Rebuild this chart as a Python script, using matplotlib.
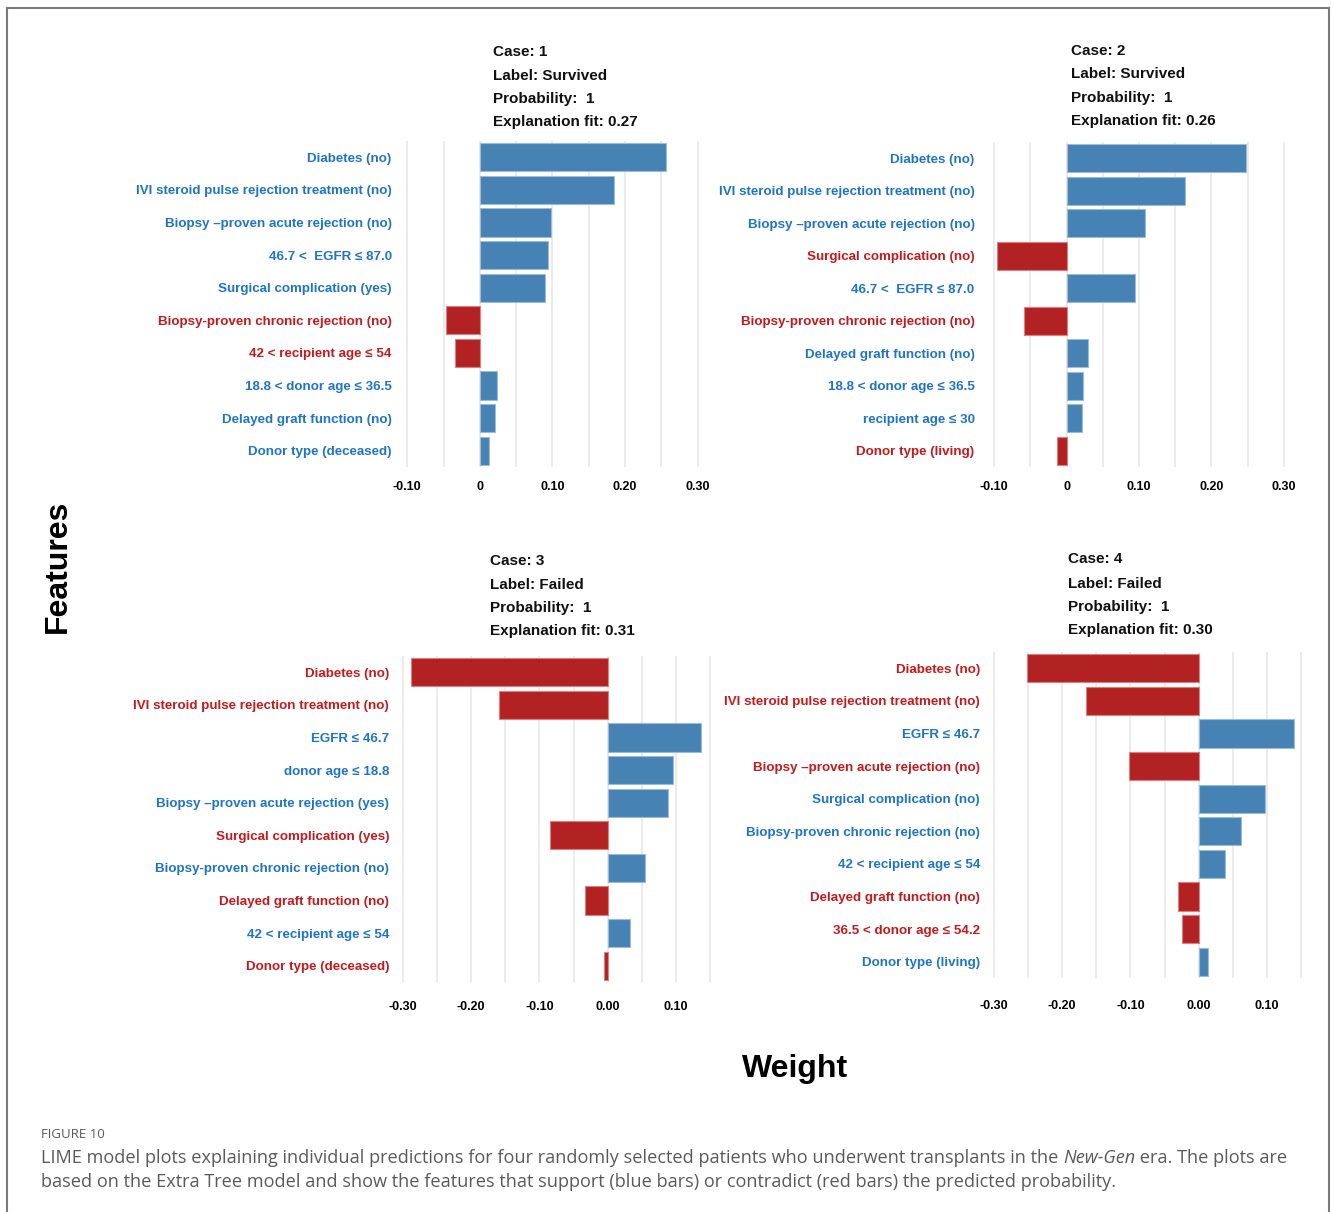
import matplotlib.pyplot as plt

W, H = 1331, 1212

# LIME explanations, one list pair per case (top bar first)
case1_features = ["Diabetes (no)", "IVI steroid pulse rejection treatment (no)",
                  "Biopsy \u2013proven acute rejection (no)", "46.7 <  EGFR \u2264 87.0",
                  "Surgical complication (yes)", "Biopsy-proven chronic rejection (no)",
                  "42 < recipient age \u2264 54", "18.8 < donor age \u2264 36.5",
                  "Delayed graft function (no)", "Donor type (deceased)"]
case1_weights = [0.256, 0.185, 0.098, 0.094, 0.090, -0.047, -0.034, 0.024, 0.021, 0.013]

case2_features = ["Diabetes (no)", "IVI steroid pulse rejection treatment (no)",
                  "Biopsy \u2013proven acute rejection (no)", "Surgical complication (no)",
                  "46.7 <  EGFR \u2264 87.0", "Biopsy-proven chronic rejection (no)",
                  "Delayed graft function (no)", "18.8 < donor age \u2264 36.5",
                  "recipient age \u2264 30", "Donor type (living)"]
case2_weights = [0.248, 0.164, 0.108, -0.096, 0.094, -0.059, 0.030, 0.023, 0.021, -0.013]

case3_features = ["Diabetes (no)", "IVI steroid pulse rejection treatment (no)",
                  "EGFR \u2264 46.7", "donor age \u2264 18.8",
                  "Biopsy \u2013proven acute rejection (yes)", "Surgical complication (yes)",
                  "Biopsy-proven chronic rejection (no)", "Delayed graft function (no)",
                  "42 < recipient age \u2264 54", "Donor type (deceased)"]
case3_weights = [-0.288, -0.159, 0.136, 0.096, 0.088, -0.084, 0.054, -0.034, 0.033, -0.006]

case4_features = ["Diabetes (no)", "IVI steroid pulse rejection treatment (no)",
                  "EGFR \u2264 46.7", "Biopsy \u2013proven acute rejection (no)",
                  "Surgical complication (no)", "Biopsy-proven chronic rejection (no)",
                  "42 < recipient age \u2264 54", "Delayed graft function (no)",
                  "36.5 < donor age \u2264 54.2", "Donor type (living)"]
case4_weights = [-0.252, -0.165, 0.139, -0.102, 0.097, 0.062, 0.038, -0.030, -0.024, 0.014]

case_ids = [1, 2, 3, 4]
case_labels = ["Survived", "Survived", "Failed", "Failed"]
case_probs = [1, 1, 1, 1]
case_fits = [0.27, 0.26, 0.31, 0.30]

ticks_top = [-0.10, 0, 0.10, 0.20, 0.30]
ticklabels_top = ["-0.10", "0", "0.10", "0.20", "0.30"]
ticks_bottom = [-0.30, -0.20, -0.10, 0.00, 0.10]
ticklabels_bottom = ["-0.30", "-0.20", "-0.10", "0.00", "0.10"]

BLUE_BAR = "#4682b4"
RED_BAR = "#b22222"
BLUE_TXT = "#1f74c9"
RED_TXT = "#c41a1c"
SANS = ["Liberation Sans", "DejaVu Sans"]

fig = plt.figure(figsize=(W / 100, H / 100), dpi=100)


def px_axes(left, top, right, bottom):
    return fig.add_axes([left / W, 1 - bottom / H, (right - left) / W, (bottom - top) / H])


panels = [
    dict(feat=case1_features, w=case1_weights, rect=(400, 141, 705, 467), xlim=(-0.11, 0.31),
         grid=(-0.10, 0.30), ticks=ticks_top, tl=ticklabels_top, ypad=6, xpad=10,
         title_xy=(493, [52, 76, 99, 122])),
    dict(feat=case2_features, w=case2_weights, rect=(987, 142, 1291, 467), xlim=(-0.11, 0.31),
         grid=(-0.10, 0.30), ticks=ticks_top, tl=ticklabels_top, ypad=9, xpad=10,
         title_xy=(1071, [51, 74, 98, 121])),
    dict(feat=case3_features, w=case3_weights, rect=(396, 656, 717, 982), xlim=(-0.31, 0.16),
         grid=(-0.30, 0.15), ticks=ticks_bottom, tl=ticklabels_bottom, ypad=5, xpad=14,
         title_xy=(490, [561, 585, 608, 631])),
    dict(feat=case4_features, w=case4_weights, rect=(987, 652, 1308, 978), xlim=(-0.31, 0.16),
         grid=(-0.30, 0.15), ticks=ticks_bottom, tl=ticklabels_bottom, ypad=5, xpad=16,
         title_xy=(1068, [559, 584, 607, 630])),
]

for i, p in enumerate(panels):
    ax = px_axes(*p["rect"])
    n = len(p["w"])
    pos = list(range(n))
    bar_cols = [BLUE_BAR if v > 0 else RED_BAR for v in p["w"]]
    edge_cols = ["#9dbbd6" if v > 0 else "#d98080" for v in p["w"]]
    ax.barh(pos, p["w"], height=0.86, color=bar_cols, edgecolor=edge_cols, linewidth=0.8, zorder=3)

    # light vertical grid every 0.05
    g0, g1 = p["grid"]
    k = 0
    while g0 + k * 0.05 <= g1 + 1e-9:
        ax.axvline(g0 + k * 0.05, color="#e8e8e8", lw=1.2, zorder=1)
        k += 1

    ax.set_xlim(*p["xlim"])
    ax.set_ylim(n - 0.5, -0.5)
    ax.set_xticks(p["ticks"])
    ax.set_xticklabels(p["tl"], fontsize=9, fontweight="bold", family=SANS)
    ax.set_yticks(pos)
    ax.set_yticklabels(p["feat"], fontsize=9.6, fontweight="bold", family=SANS)
    for lab, v in zip(ax.get_yticklabels(), p["w"]):
        lab.set_color(BLUE_TXT if v > 0 else RED_TXT)
    ax.tick_params(axis="both", length=0)
    ax.tick_params(axis="y", pad=p["ypad"])
    ax.tick_params(axis="x", pad=p["xpad"])
    for s in ax.spines.values():
        s.set_visible(False)

    tx, tys = p["title_xy"]
    lines = [f"Case: {case_ids[i]}", f"Label: {case_labels[i]}",
             f"Probability:  {case_probs[i]}", f"Explanation fit: {case_fits[i]:.2f}"]
    for line, ty in zip(lines, tys):
        fig.text(tx / W, 1 - ty / H, line, ha="left", va="center", fontsize=11,
                 fontweight="bold", family=SANS, color="#111111")

fig.text(58 / W, 1 - 566 / H, "Features", rotation=90, ha="center", va="center",
         fontsize=23, fontweight="bold", family=SANS)
fig.text(795 / W, 1 - 1069 / H, "Weight", ha="center", va="center",
         fontsize=23, fontweight="bold", family=SANS)

# frame around the figure
frame_col = "#7a7a7a"
fig.add_artist(plt.Line2D([7 / W, 7 / W], [0, 1 - 8 / H], color=frame_col, lw=1.5))
fig.add_artist(plt.Line2D([7 / W, 1329 / W], [1 - 8 / H, 1 - 8 / H], color=frame_col, lw=1.5))
fig.add_artist(plt.Line2D([1329 / W, 1329 / W], [0, 1 - 8 / H], color=frame_col, lw=1.5))

# caption
cap_font = ["Open Sans", "DejaVu Sans"]
cap_col = "#5a5a5a"
fig.text(41 / W, 1 - 1134 / H, "FIGURE 10", ha="left", va="center", fontsize=9.5,
         family=cap_font, color=cap_col)

renderer = fig.canvas.get_renderer()
parts = [("LIME model plots explaining individual predictions for four randomly selected "
          "patients who underwent transplants in the ", "normal"),
         ("New-Gen", "italic"), (" era. The plots are", "normal")]
x = 41
for txt, style in parts:
    t = fig.text(x / W, 1 - 1158 / H, txt, ha="left", va="center", fontsize=13.1,
                 family=cap_font, style=style, color=cap_col)
    x = t.get_window_extent(renderer).x1
fig.text(41 / W, 1 - 1182 / H, "based on the Extra Tree model and show the features that support "
         "(blue bars) or contradict (red bars) the predicted probability.",
         ha="left", va="center", fontsize=13.1, family=cap_font, color=cap_col)

fig.savefig("out.png", dpi=100)
